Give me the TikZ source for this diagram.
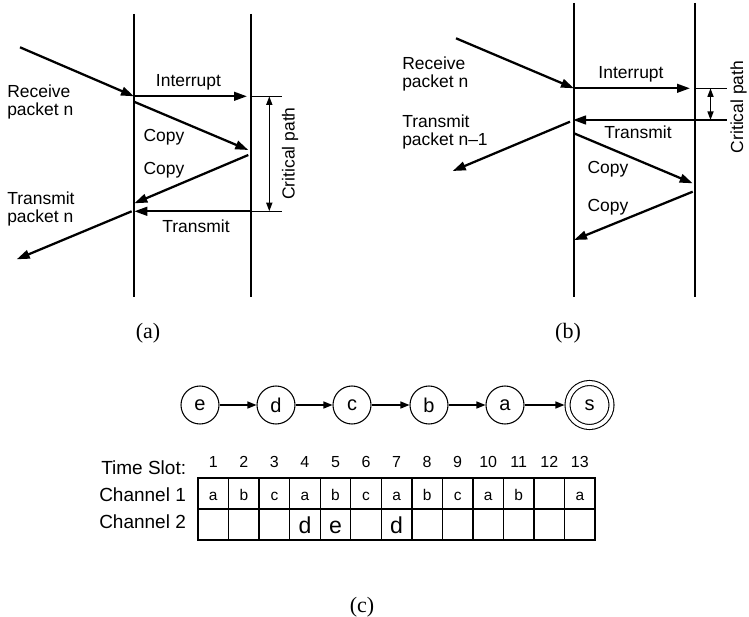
\documentclass[tikz,border=0pt]{standalone}
\usepackage{fontspec}
\setmainfont{Liberation Sans}
\newfontfamily\serifpanel{Liberation Serif}
\usetikzlibrary{arrows.meta}
\begin{document}
\begin{tikzpicture}[x=0.75pt,y=-0.75pt,
  vline/.style={line width=1.1pt},
  arr/.style={line width=1.7pt,-{Triangle[length=9.75pt,width=6.5pt]}},
  cline/.style={line width=1.1pt},
  dbl/.style={line width=1.2pt,{Triangle[length=6.5pt,width=4.5pt]}-{Triangle[length=6.5pt,width=4.5pt]}},
  lbl/.style={inner sep=0pt,font=\fontsize{13.1}{13.5}\selectfont},
  lblnw/.style={lbl,anchor=north west,align=left},
  panel/.style={inner sep=0pt,font=\serifpanel\fontsize{16.5}{18}\selectfont},
  st/.style={circle,draw,line width=0.8pt,minimum size=28.5pt,inner sep=0pt,font=\fontsize{15}{16}\selectfont},
  acc/.style={circle,draw,line width=0.8pt,double,double distance=2.95pt,minimum size=33pt,inner sep=0pt,outer sep=2.3pt,font=\fontsize{15}{16}\selectfont},
  charr/.style={line width=1pt,-{Triangle[length=6.75pt,width=5.25pt]}},
  cell1/.style={draw,line width=1pt,minimum width=22.91pt,minimum height=23.25pt,inner sep=0pt,text height=10.8pt,text depth=0pt,font=\fontsize{11.6}{12}\selectfont},
  cell2/.style={draw,line width=1pt,minimum width=22.91pt,minimum height=23.25pt,inner sep=0pt,text height=13.2pt,text depth=0pt,font=\fontsize{17.3}{18}\selectfont},
  tlbl/.style={inner sep=0pt,anchor=base west,font=\fontsize{14.25}{15}\selectfont},
  dig/.style={inner sep=0pt,anchor=base,font=\fontsize{12}{13}\selectfont}
]
\useasboundingbox (0,0) rectangle (749,617);

% ---------------- panel (a) ----------------
\coordinate (aL1) at (134,14); \coordinate (aL2) at (134,297);
\coordinate (aR1) at (251,14); \coordinate (aR2) at (251,297);
\draw[vline] (aL1) -- (aL2);
\draw[vline] (aR1) -- (aR2);
\coordinate (aIn) at (20,47.3);
\coordinate (aRx) at (134,96.3);
\coordinate (aIntE) at (247,96.3);
\coordinate (aC1s) at (134,101.7);
\coordinate (aC1e) at (248.3,150);
\coordinate (aC2s) at (248.3,155);
\coordinate (aC2e) at (134.3,203.3);
\coordinate (aTs) at (251,211.3);
\coordinate (aTe) at (134.3,211.3);
\coordinate (aOs) at (131.7,211.3);
\coordinate (aOe) at (16.7,259.3);
\coordinate (aK1) at (282,96.3);
\coordinate (aK2) at (282,211.3);
\coordinate (aD1) at (269.3,96.3);
\coordinate (aD2) at (269.3,211.3);
\draw[arr] (aIn) -- (aRx);
\draw[arr] (aRx) -- (aIntE);
\draw[arr] (aC1s) -- (aC1e);
\draw[arr] (aC2s) -- (aC2e);
\draw[arr] (aTs) -- (aTe);
\draw[arr] (aOs) -- (aOe);
\draw[cline] (aRx -| aR1) -- (aK1);
\draw[cline] (aTs) -- (aK2);
\draw[dbl] (aD1) -- (aD2);
\node[lbl,anchor=base] (aInt) at (188.5,87) {Interrupt};
\node[lbl,anchor=base] (aCp1) at (164,141) {Copy};
\node[lbl,anchor=base] (aCp2) at (164,174) {Copy};
\node[lbl,anchor=base] (aTr) at (196,232) {Transmit};
\node[lblnw] (aRec) at (7,85) {Receive\\packet n};
\node[lblnw] (aTra) at (7,192) {Transmit\\packet n};
\node[lbl,rotate=90] (aCrit) at (290,153.5) {Critical path};
\node[panel] (pa) at (148,333) {(a)};

% ---------------- panel (b) ----------------
\coordinate (bL1) at (574,3); \coordinate (bL2) at (574,297);
\coordinate (bR1) at (695,3); \coordinate (bR2) at (695,297);
\draw[vline] (bL1) -- (bL2);
\draw[vline] (bR1) -- (bR2);
\coordinate (bIn) at (456,38.3);
\coordinate (bRx) at (574,88.3);
\coordinate (bIntE) at (690,88.3);
\coordinate (bTs) at (695,120);
\coordinate (bTe) at (573,120);
\coordinate (bOs) at (570,121.7);
\coordinate (bOe) at (452.7,171);
\coordinate (bC1s) at (574,133.3);
\coordinate (bC1e) at (692.7,183.3);
\coordinate (bC2s) at (692.7,191.7);
\coordinate (bC2e) at (574,240);
\coordinate (bK1) at (727,88.3);
\coordinate (bK2) at (727,120);
\coordinate (bD1) at (710.5,88.3);
\coordinate (bD2) at (710.5,120);
\draw[arr] (bIn) -- (bRx);
\draw[arr] (bRx) -- (bIntE);
\draw[arr] (bTs) -- (bTe);
\draw[arr] (bOs) -- (bOe);
\draw[arr] (bC1s) -- (bC1e);
\draw[arr] (bC2s) -- (bC2e);
\draw[cline] (bRx -| bR1) -- (bK1);
\draw[cline] (bTs) -- (bK2);
\draw[dbl] (bD1) -- (bD2);
\node[lbl,anchor=base] (bInt) at (631,79) {Interrupt};
\node[lbl,anchor=base] (bTr) at (638,138) {Transmit};
\node[lbl,anchor=base] (bCp1) at (608,173) {Copy};
\node[lbl,anchor=base] (bCp2) at (608,211) {Copy};
\node[lblnw] (bRec) at (402,57) {Receive\\packet n};
\node[lblnw] (bTra) at (402,115) {Transmit\\packet n\textendash 1};
\node[lbl,rotate=90] (bCrit) at (738.5,107) {Critical path};
\node[panel] (pb) at (568,333) {(b)};

% ---------------- panel (c) ----------------
\node[st] (e) at (200,405) {e};
\node[st] (d) at (276,405) {d};
\node[st] (c) at (352,405) {c};
\node[st] (b) at (429,405) {b};
\node[st] (a) at (505,405) {a};
\node[acc] (s) at (589.5,405) {s};
\draw[charr] (e) -- (d);
\draw[charr] (d) -- (c);
\draw[charr] (c) -- (b);
\draw[charr] (b) -- (a);
\draw[charr] (a) -- (s);

\node[tlbl] (ts) at (101,474) {Time Slot:};
\node[tlbl] (ch1) at (99,501.7) {Channel 1};
\node[tlbl] (ch2) at (99,528) {Channel 2};
\foreach \i/\u/\v in {1/a/,2/b/,3/c/,4/a/d,5/b/e,6/c/,7/a/d,8/b/,9/c/,10/a/,11/b/,12//,13/a/}{
  \node[dig] (t\i) at ({198+30.55*(\i-0.5)},467.3) {\i};
  \node[cell1] (x\i) at ({198+30.55*(\i-0.5)},493.5) {\u};
  \node[cell2] (y\i) at ({198+30.55*(\i-0.5)},524.5) {\v};
}
\node[panel] (pc) at (362,607) {(c)};
\end{tikzpicture}
\end{document}
